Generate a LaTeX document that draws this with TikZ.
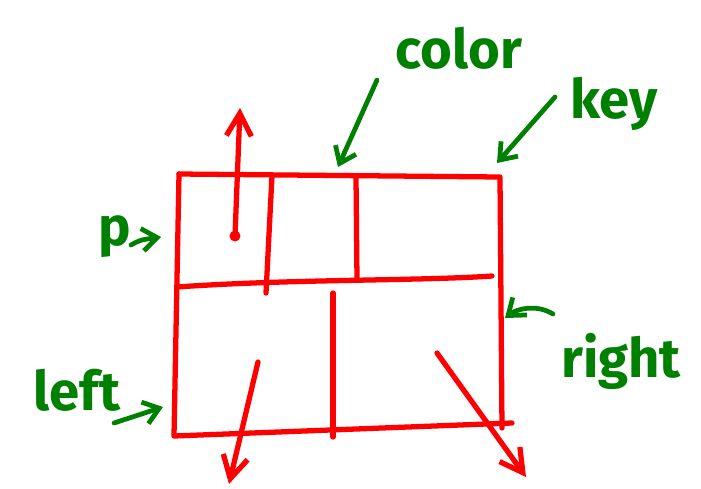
\documentclass[tikz,border=0pt]{standalone}
\usepackage{fontspec}
\setmainfont{Fira Sans}
\usetikzlibrary{arrows.meta}
\definecolor{penred}{RGB}{255,0,0}
\definecolor{pengreen}{RGB}{0,128,0}

\begin{document}
\begin{tikzpicture}[x=0.02cm, y=-0.02cm, line cap=round, line join=round]
\tikzstyle{redline}=[draw=penred, line width=3pt]
\tikzstyle{redarrow}=[redline, -{Straight Barb[length=4.5mm,width=5mm]}]
\tikzstyle{tag}=[text=pengreen, font=\fontsize{31}{33}\selectfont\bfseries, inner sep=0pt, anchor=base]
\tikzstyle{pointer}=[draw=pengreen, line width=2.7pt, -{Straight Barb[length=3mm,width=4.5mm]}]
\useasboundingbox (0,0) rectangle (701,488);
% corners of the box
\coordinate (tl) at (179,174);
\coordinate (tr) at (500,177);
\coordinate (bl) at (174,436);
\coordinate (br) at (502,428);
\draw[redline] (tl) -- (tr) -- (br);
\draw[redline] (tl) -- (bl) -- (512,423);
% middle split and cells
\coordinate (ml) at (177,287);
\coordinate (mr) at (492,276);
\draw[redline] (ml) .. controls (290,279) and (420,281) .. (mr);
\draw[redline] (272,176) -- (266,293);
\draw[redline] (356,176) -- (357,280);
\draw[redline] (333,293) -- (333,437);
% arrows out of the cells
\coordinate (up) at (240,108);
\coordinate (down) at (229,484);
\coordinate (downright) at (526,477);
\fill[penred] (235,236) circle (5.5);
\draw[redarrow] (235,236) -- (up);
\draw[redarrow] (258,362) -- (down);
\draw[redarrow] (437,353) -- (downright);
% labels
\node[tag] (color) at (459,68) {color};
\node[tag] (key) at (614,118) {key};
\node[tag] (p) at (115,245) {p};
\node[tag] (right) at (621,377) {right};
\node[tag] (left) at (77,410) {left};
% pointers
\coordinate (colorpt) at (338,167);
\coordinate (keypt) at (497,163);
\coordinate (ppt) at (161,237);
\coordinate (rightpt) at (505,318);
\coordinate (leftpt) at (163,407);
\draw[pointer] (377,80) -- (colorpt);
\draw[pointer] (555,97) -- (keypt);
\draw[pointer] (131,245) .. controls (140,240) .. (ppt);
\draw[pointer] (553,314) .. controls (535,303) and (515,310) .. (rightpt);
\draw[pointer] (114,423) -- (leftpt);
\end{tikzpicture}
\end{document}
